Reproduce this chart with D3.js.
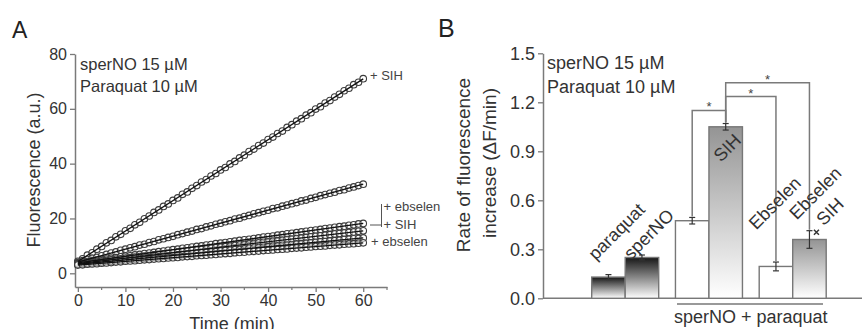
<!DOCTYPE html>
<html>
<head>
<meta charset="utf-8">
<script src="https://cdn.jsdelivr.net/npm/d3@7"></script>
<style>
  body { margin: 0; background: #fff; }
  svg { display: block; font-family: "Liberation Sans", Arial, sans-serif; }
</style>
</head>
<body>
<svg id="chart" width="862" height="329"></svg>
<script>
// ---------- Panel A: fluorescence traces, one reading per minute (0–60 min) ----------
const traceSIH = [4.4,5.3,6.6,7.5,8.8,9.8,11.1,12.0,13.3,14.2,
  15.5,16.4,17.7,18.6,19.9,20.9,22.2,23.1,24.4,25.3,
  26.6,27.5,28.8,29.7,31.0,32.0,33.3,34.2,35.5,36.4,
  37.7,38.6,39.9,40.8,42.1,43.1,44.4,45.3,46.6,47.5,
  48.8,49.7,51.0,51.9,53.2,54.2,55.5,56.4,57.7,58.6,
  59.9,60.8,62.1,63.0,64.3,65.3,66.6,67.5,68.8,69.7,71.0];
const traceSperPq = [4.0,4.6,5.0,5.5,5.8,6.4,6.9,7.4,7.8,8.4,
  8.8,9.3,9.7,10.3,10.6,11.2,11.6,12.2,12.6,13.1,
  13.5,14.1,14.5,15.0,15.4,16.0,16.3,16.9,17.3,17.9,
  18.3,18.8,19.2,19.8,20.1,20.7,21.1,21.7,22.1,22.6,
  23.0,23.6,23.9,24.5,24.9,25.4,25.8,26.4,26.7,27.3,
  27.7,28.3,28.7,29.2,29.6,30.2,30.5,31.1,31.5,32.0,32.5];
const traceEbsSIH = [3.8,4.1,4.3,4.5,4.8,5.0,5.2,5.5,5.7,6.0,
  6.2,6.4,6.7,6.9,7.2,7.4,7.6,7.9,8.1,8.4,
  8.6,8.8,9.1,9.3,9.6,9.8,10.0,10.3,10.5,10.8,
  11.0,11.2,11.5,11.7,12.0,12.2,12.4,12.7,12.9,13.2,
  13.4,13.6,13.9,14.1,14.4,14.6,14.8,15.1,15.3,15.6,
  15.8,16.0,16.3,16.5,16.8,17.0,17.2,17.5,17.7,18.0,18.2];
const traceSperNO = [3.5,3.7,3.9,4.1,4.3,4.5,4.7,4.9,5.1,5.3,
  5.5,5.7,5.9,6.1,6.3,6.5,6.7,6.9,7.1,7.3,
  7.5,7.7,7.9,8.1,8.3,8.5,8.7,8.9,9.1,9.3,
  9.5,9.7,9.9,10.1,10.3,10.5,10.7,10.9,11.1,11.3,
  11.5,11.7,11.9,12.1,12.3,12.5,12.7,12.9,13.1,13.3,
  13.5,13.7,13.9,14.1,14.3,14.5,14.7,14.9,15.1,15.3,15.5];
const traceParaquat = [3.3,3.5,3.6,3.8,3.9,4.1,4.3,4.4,4.6,4.7,
  4.9,5.1,5.2,5.4,5.5,5.7,5.9,6.0,6.2,6.3,
  6.5,6.7,6.8,7.0,7.1,7.3,7.5,7.6,7.8,7.9,
  8.1,8.3,8.4,8.6,8.7,8.9,9.1,9.2,9.4,9.5,
  9.7,9.9,10.0,10.2,10.3,10.5,10.7,10.8,11.0,11.1,
  11.3,11.5,11.6,11.8,11.9,12.1,12.3,12.4,12.6,12.7,12.9];
const traceEbselen = [3.0,3.1,3.3,3.4,3.5,3.7,3.8,3.9,4.1,4.2,
  4.4,4.5,4.6,4.8,4.9,5.0,5.2,5.3,5.4,5.6,
  5.7,5.8,6.0,6.1,6.2,6.4,6.5,6.6,6.8,6.9,
  7.1,7.2,7.3,7.5,7.6,7.7,7.9,8.0,8.1,8.3,
  8.4,8.5,8.7,8.8,8.9,9.1,9.2,9.3,9.5,9.6,
  9.8,9.9,10.0,10.2,10.3,10.4,10.6,10.7,10.8,11.0,11.1];
const traces = [traceSIH, traceSperPq, traceEbsSIH, traceSperNO, traceParaquat, traceEbselen];
const xTicksA = [0, 10, 20, 30, 40, 50, 60];
const yTicksA = [0, 20, 40, 60, 80];

// ---------- Panel B: rate of fluorescence increase ----------
const barLabels = ["paraquat", "sperNO", "sperNO + paraquat", "SIH", "Ebselen", "Ebselen + SIH"];
const barValues = [0.13, 0.25, 0.475, 1.05, 0.195, 0.36];
const barErrors = [0.015, 0.015, 0.02, 0.02, 0.027, 0.054];
const barGroup = [0, 0, 1, 1, 2, 2];
const barShade = ["dark", "dark", "none", "gray", "none", "gray"];
const sigPairs = [[2, 3], [3, 4], [3, 5]];
const sigLevels = [1.15, 1.235, 1.32];
const yTicksB = [0.0, 0.3, 0.6, 0.9, 1.2, 1.5];

const svg = d3.select("#chart");
const axisColor = "#7a7a7a";
const textColor = "#333";

function styleAxis(g, fontSize) {
  g.select(".domain").attr("stroke", axisColor).attr("stroke-width", 1.5);
  g.selectAll(".tick line").attr("stroke", axisColor).attr("stroke-width", 1.3);
  g.selectAll(".tick text").attr("fill", textColor).style("font-size", fontSize + "px")
    .style("font-family", "'Liberation Sans', Arial, sans-serif");
}

// ===== Panel A =====
const xA = d3.scaleLinear().domain([-0.6, 65]).range([75, 387]);
const yA = d3.scaleLinear().domain([-5, 80]).range([287, 54]);
const gA = svg.append("g");

const yAxisA = gA.append("g").attr("transform", `translate(${xA.range()[0]},0)`)
  .call(d3.axisLeft(yA).tickValues(yTicksA).tickSize(5).tickSizeOuter(0));
styleAxis(yAxisA, 16);

const xAxisA = gA.append("g").attr("transform", `translate(0,${yA.range()[0]})`)
  .call(d3.axisBottom(xA).tickValues(xTicksA).tickSize(5).tickSizeOuter(0));
styleAxis(xAxisA, 16);
xAxisA.selectAll(".minor").data(xTicksA.map(t => t + 5)).enter().append("line")
  .attr("class", "minor").attr("x1", d => xA(d)).attr("x2", d => xA(d))
  .attr("y1", 0).attr("y2", 3).attr("stroke", axisColor).attr("stroke-width", 1.2);

// open-circle markers for every trace, then a least-squares fit line on top
traces.forEach(tr => {
  gA.append("g").selectAll("circle").data(tr).enter().append("circle")
    .attr("cx", (d, i) => xA(i)).attr("cy", d => yA(d)).attr("r", 3.3)
    .attr("fill", "#fff").attr("fill-opacity", 0.45)
    .attr("stroke", "#3c3c3c").attr("stroke-width", 1.1);
});
traces.forEach(tr => {
  const n = tr.length;
  const mx = d3.mean(tr, (d, i) => i), my = d3.mean(tr);
  const sxy = d3.sum(tr, (d, i) => (i - mx) * (d - my));
  const sxx = d3.sum(tr, (d, i) => (i - mx) * (i - mx));
  const b = sxy / sxx, a = my - b * mx;
  gA.append("line")
    .attr("x1", xA(0)).attr("y1", yA(a))
    .attr("x2", xA(n - 1)).attr("y2", yA(a + b * (n - 1)))
    .attr("stroke", "#111").attr("stroke-width", 1.3);
});

gA.append("text").attr("x", 12).attr("y", 38).text("A")
  .style("font-size", "23px").attr("fill", "#222");
gA.append("text").attr("x", 80).attr("y", 70).text("sperNO 15 \u00b5M")
  .style("font-size", "16.5px").attr("fill", textColor);
gA.append("text").attr("x", 80).attr("y", 92).text("Paraquat 10 \u00b5M")
  .style("font-size", "16.5px").attr("fill", textColor);
gA.append("text").attr("transform", "translate(40,170) rotate(-90)")
  .attr("text-anchor", "middle").text("Fluorescence (a.u.)")
  .style("font-size", "18px").attr("fill", textColor);
gA.append("text").attr("x", 232).attr("y", 330).attr("text-anchor", "middle")
  .text("Time (min)").style("font-size", "18px").attr("fill", textColor);

// trace labels at the right end
const lab = gA.append("g").style("font-size", "13px").attr("fill", "#444");
lab.append("text").attr("x", 370).attr("y", 80).text("+ SIH");
lab.append("text").attr("x", 383.5).attr("y", 211).text("+ ebselen");
lab.append("text").attr("x", 383.5).attr("y", 228.5).text("+ SIH");
lab.append("text").attr("x", 371).attr("y", 246).text("+ ebselen");
gA.append("path").attr("d", "M370,225 H381.5 M381.5,204 V227")
  .attr("stroke", "#555").attr("stroke-width", 1).attr("fill", "none");

// ===== Panel B =====
const yB = d3.scaleLinear().domain([0, 1.5]).range([298.3, 53.3]);
const slot = barValues.map((v, i) => i + 0.5 * barGroup[i]);
const xB = d3.scaleLinear().domain([0, 1]).range([591.7, 625.2]);
const bw = xB(1) - xB(0);
const gB = svg.append("g");

const defs = svg.append("defs");
const shades = { dark: ["#161616", "#ffffff"], gray: ["#949494", "#ffffff"] };
Object.entries(shades).forEach(([k, c]) => {
  const lg = defs.append("linearGradient").attr("id", "grad-" + k)
    .attr("x1", 0).attr("y1", 0).attr("x2", 0).attr("y2", 1);
  lg.append("stop").attr("offset", "0%").attr("stop-color", c[0]);
  lg.append("stop").attr("offset", "100%").attr("stop-color", c[1]);
});

const yAxisB = gB.append("g").attr("transform", "translate(543,0)")
  .call(d3.axisLeft(yB).tickValues(yTicksB).tickFormat(d3.format(".1f")).tickSize(5).tickSizeOuter(0));
styleAxis(yAxisB, 18);
gB.append("line").attr("x1", 543).attr("x2", 862).attr("y1", yB(0)).attr("y2", yB(0))
  .attr("stroke", axisColor).attr("stroke-width", 1.5);

gB.selectAll("rect.bar").data(barValues).enter().append("rect").attr("class", "bar")
  .attr("x", (d, i) => xB(slot[i])).attr("width", bw)
  .attr("y", d => yB(d)).attr("height", d => yB(0) - yB(d))
  .attr("fill", (d, i) => barShade[i] === "none" ? "#fff" : `url(#grad-${barShade[i]})`)
  .attr("stroke", "#777").attr("stroke-width", 1.4);

// error bars
const eb = gB.append("g").attr("stroke", "#333").attr("stroke-width", 1.2);
barValues.forEach((v, i) => {
  const cx = xB(slot[i]) + bw / 2, e = barErrors[i];
  eb.append("line").attr("x1", cx).attr("x2", cx).attr("y1", yB(v - e)).attr("y2", yB(v + e));
  eb.append("line").attr("x1", cx - 3).attr("x2", cx + 3).attr("y1", yB(v - e)).attr("y2", yB(v - e));
  eb.append("line").attr("x1", cx - 3).attr("x2", cx + 3).attr("y1", yB(v + e)).attr("y2", yB(v + e));
});

// significance brackets
const sg = gB.append("g");
sigPairs.forEach(([a, b], k) => {
  const xa = xB(slot[a]) + bw / 2, xb = xB(slot[b]) + bw / 2;
  const yl = yB(sigLevels[k]);
  const ya = yB(barValues[a] + barErrors[a]) - 1, ybb = yB(barValues[b] + barErrors[b]) - 1;
  sg.append("path").attr("d", `M${xa},${ya} V${yl} H${xb} V${ybb}`)
    .attr("fill", "none").attr("stroke", "#7a7a7a").attr("stroke-width", 1.5);
  sg.append("text").attr("x", (xa + xb) / 2).attr("y", yl + 1).attr("text-anchor", "middle")
    .text("*").style("font-size", "13px").attr("fill", "#444");
});
// small cross beside the last bar
{
  const cx = xB(slot[5]) + bw / 2 + 7, cy = yB(barValues[5] + barErrors[5]) + 1.5;
  gB.append("path").attr("d", `M${cx - 2.5},${cy - 2.5} L${cx + 2.5},${cy + 2.5} M${cx + 2.5},${cy - 2.5} L${cx - 2.5},${cy + 2.5}`)
    .attr("stroke", "#333").attr("stroke-width", 1.5);
}

// rotated bar captions
const capB = [
  { text: "paraquat", bar: 0, dx: 4, dy: -16 },
  { text: "sperNO", bar: 1, dx: 6, dy: 3 },
  { text: "SIH", bar: 3, dx: 12, dy: 36 },
  { text: "Ebselen", bar: 4, dx: -3, dy: -36 },
  { text: "Ebselen", bar: 5, dx: 4, dy: -19 },
  { text: "SIH", bar: 5, dx: 31, dy: -13 }
];
capB.forEach(c => {
  const x = xB(slot[c.bar]) + c.dx, y = yB(barValues[c.bar]) + c.dy;
  gB.append("text").attr("transform", `translate(${x},${y}) rotate(-45)`)
    .text(c.text).style("font-size", "18px").attr("fill", textColor);
});

gB.append("text").attr("x", 438).attr("y", 37).text("B").style("font-size", "25px").attr("fill", "#222");
gB.append("text").attr("x", 547).attr("y", 69).text("sperNO 15 \u00b5M").style("font-size", "18px").attr("fill", textColor);
gB.append("text").attr("x", 547).attr("y", 93).text("Paraquat 10 \u00b5M").style("font-size", "18px").attr("fill", textColor);
gB.append("text").attr("transform", "translate(470,165) rotate(-90)").attr("text-anchor", "middle")
  .text("Rate of fluorescence").style("font-size", "19px").attr("fill", textColor);
gB.append("text").attr("transform", "translate(496,163) rotate(-90)").attr("text-anchor", "middle")
  .text("increase (\u0394F/min)").style("font-size", "19px").attr("fill", textColor);

// group caption under the combined-treatment bars
gB.append("line").attr("x1", 677).attr("x2", 823).attr("y1", 304).attr("y2", 304)
  .attr("stroke", "#777").attr("stroke-width", 1.5);
gB.append("text").attr("x", (xB(slot[2]) + xB(slot[5]) + bw) / 2).attr("y", 323).attr("text-anchor", "middle")
  .text("sperNO + paraquat").style("font-size", "18px").attr("fill", textColor);
</script>
</body>
</html>
